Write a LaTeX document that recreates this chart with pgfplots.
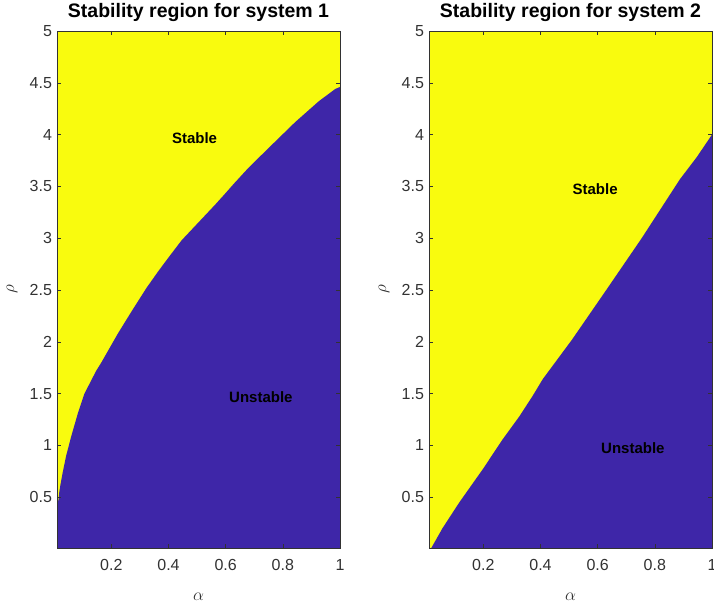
\documentclass[border=0pt]{standalone}
\usepackage{fontspec}
\setmainfont{Liberation Sans}
\usepackage{pgfplots}
\pgfplotsset{compat=1.18}
\definecolor{pyel}{RGB}{249,251,14}
\definecolor{pblue}{RGB}{62,38,168}
\definecolor{axgray}{RGB}{50,50,50}
\begin{document}
\begin{tikzpicture}
\useasboundingbox (0pt,0pt) rectangle (714pt,603pt);
\pgfplotsset{mystyle/.style={
  scale only axis, width=283pt, height=517pt,
  xmin=0.01, xmax=1, ymin=0.01, ymax=5,
  axis background/.style={fill=pyel},
  axis on top,
  xtick={0.2,0.4,0.6,0.8,1}, ytick={0.5,1,1.5,2,2.5,3,3.5,4,4.5,5},
  tick align=inside, tick pos=both, major tick length=4pt,
  axis line style={axgray, line width=0.6pt},
  tick style={axgray, line width=0.6pt},
  /pgf/number format/assume math mode=true,
  ticklabel style={font=\fontsize{16}{16}\selectfont, text=axgray},
  xticklabel style={yshift=-8pt},
  yticklabel style={xshift=-1.5pt},
  title style={font=\bfseries\fontsize{19.5}{19.5}\selectfont, at={(axis description cs:0.5,1)}, anchor=south, yshift=-0.5pt},
  xlabel={$\alpha$}, ylabel={$\rho$},
  xlabel style={font=\fontsize{16}{16}\selectfont, text=axgray, at={(axis description cs:0.5,-0.0948)}, anchor=center},
  ylabel style={font=\fontsize{16}{16}\selectfont, text=axgray, at={(axis description cs:-0.159,0.5)}, anchor=center},
}}
\begin{axis}[mystyle, at={(57pt,55pt)}, anchor=south west, title={Stability region for system 1}]
\addplot[fill=pblue, draw=none] coordinates {
(0.01,0) (0.01,0.45) (0.015,0.47) (0.018,0.55) (0.022,0.62) (0.03,0.74)
(0.042,0.90) (0.06,1.09) (0.083,1.31) (0.106,1.50) (0.147,1.72) (0.165,1.80)
(0.223,2.08) (0.27,2.29) (0.323,2.52) (0.364,2.68) (0.399,2.81) (0.446,2.98)
(0.504,3.15) (0.562,3.32) (0.598,3.43) (0.63,3.53) (0.68,3.68) (0.75,3.87)
(0.843,4.12) (0.925,4.32) (0.983,4.44) (1,4.46) (1,0)};
\node[anchor=west, font=\bfseries\fontsize{15}{15}\selectfont] at (axis cs:0.4,3.97) {Stable};
\node[anchor=west, font=\bfseries\fontsize{15}{15}\selectfont] at (axis cs:0.6,1.47) {Unstable};
\end{axis}
\begin{axis}[mystyle, at={(429pt,55pt)}, anchor=south west, title={Stability region for system 2}]
\addplot[fill=pblue, draw=none] coordinates {
(0.01,0) (0.016,0) (0.057,0.2) (0.116,0.45) (0.198,0.77) (0.268,1.06)
(0.326,1.28) (0.373,1.48) (0.408,1.64) (0.51,2.02) (0.63,2.5) (0.754,3.0)
(0.841,3.37) (0.888,3.57) (0.946,3.78) (1,4.0) (1,0)};
\node[anchor=west, font=\bfseries\fontsize{15}{15}\selectfont] at (axis cs:0.5,3.47) {Stable};
\node[anchor=west, font=\bfseries\fontsize{15}{15}\selectfont] at (axis cs:0.6,0.97) {Unstable};
\end{axis}
\end{tikzpicture}
\end{document}
